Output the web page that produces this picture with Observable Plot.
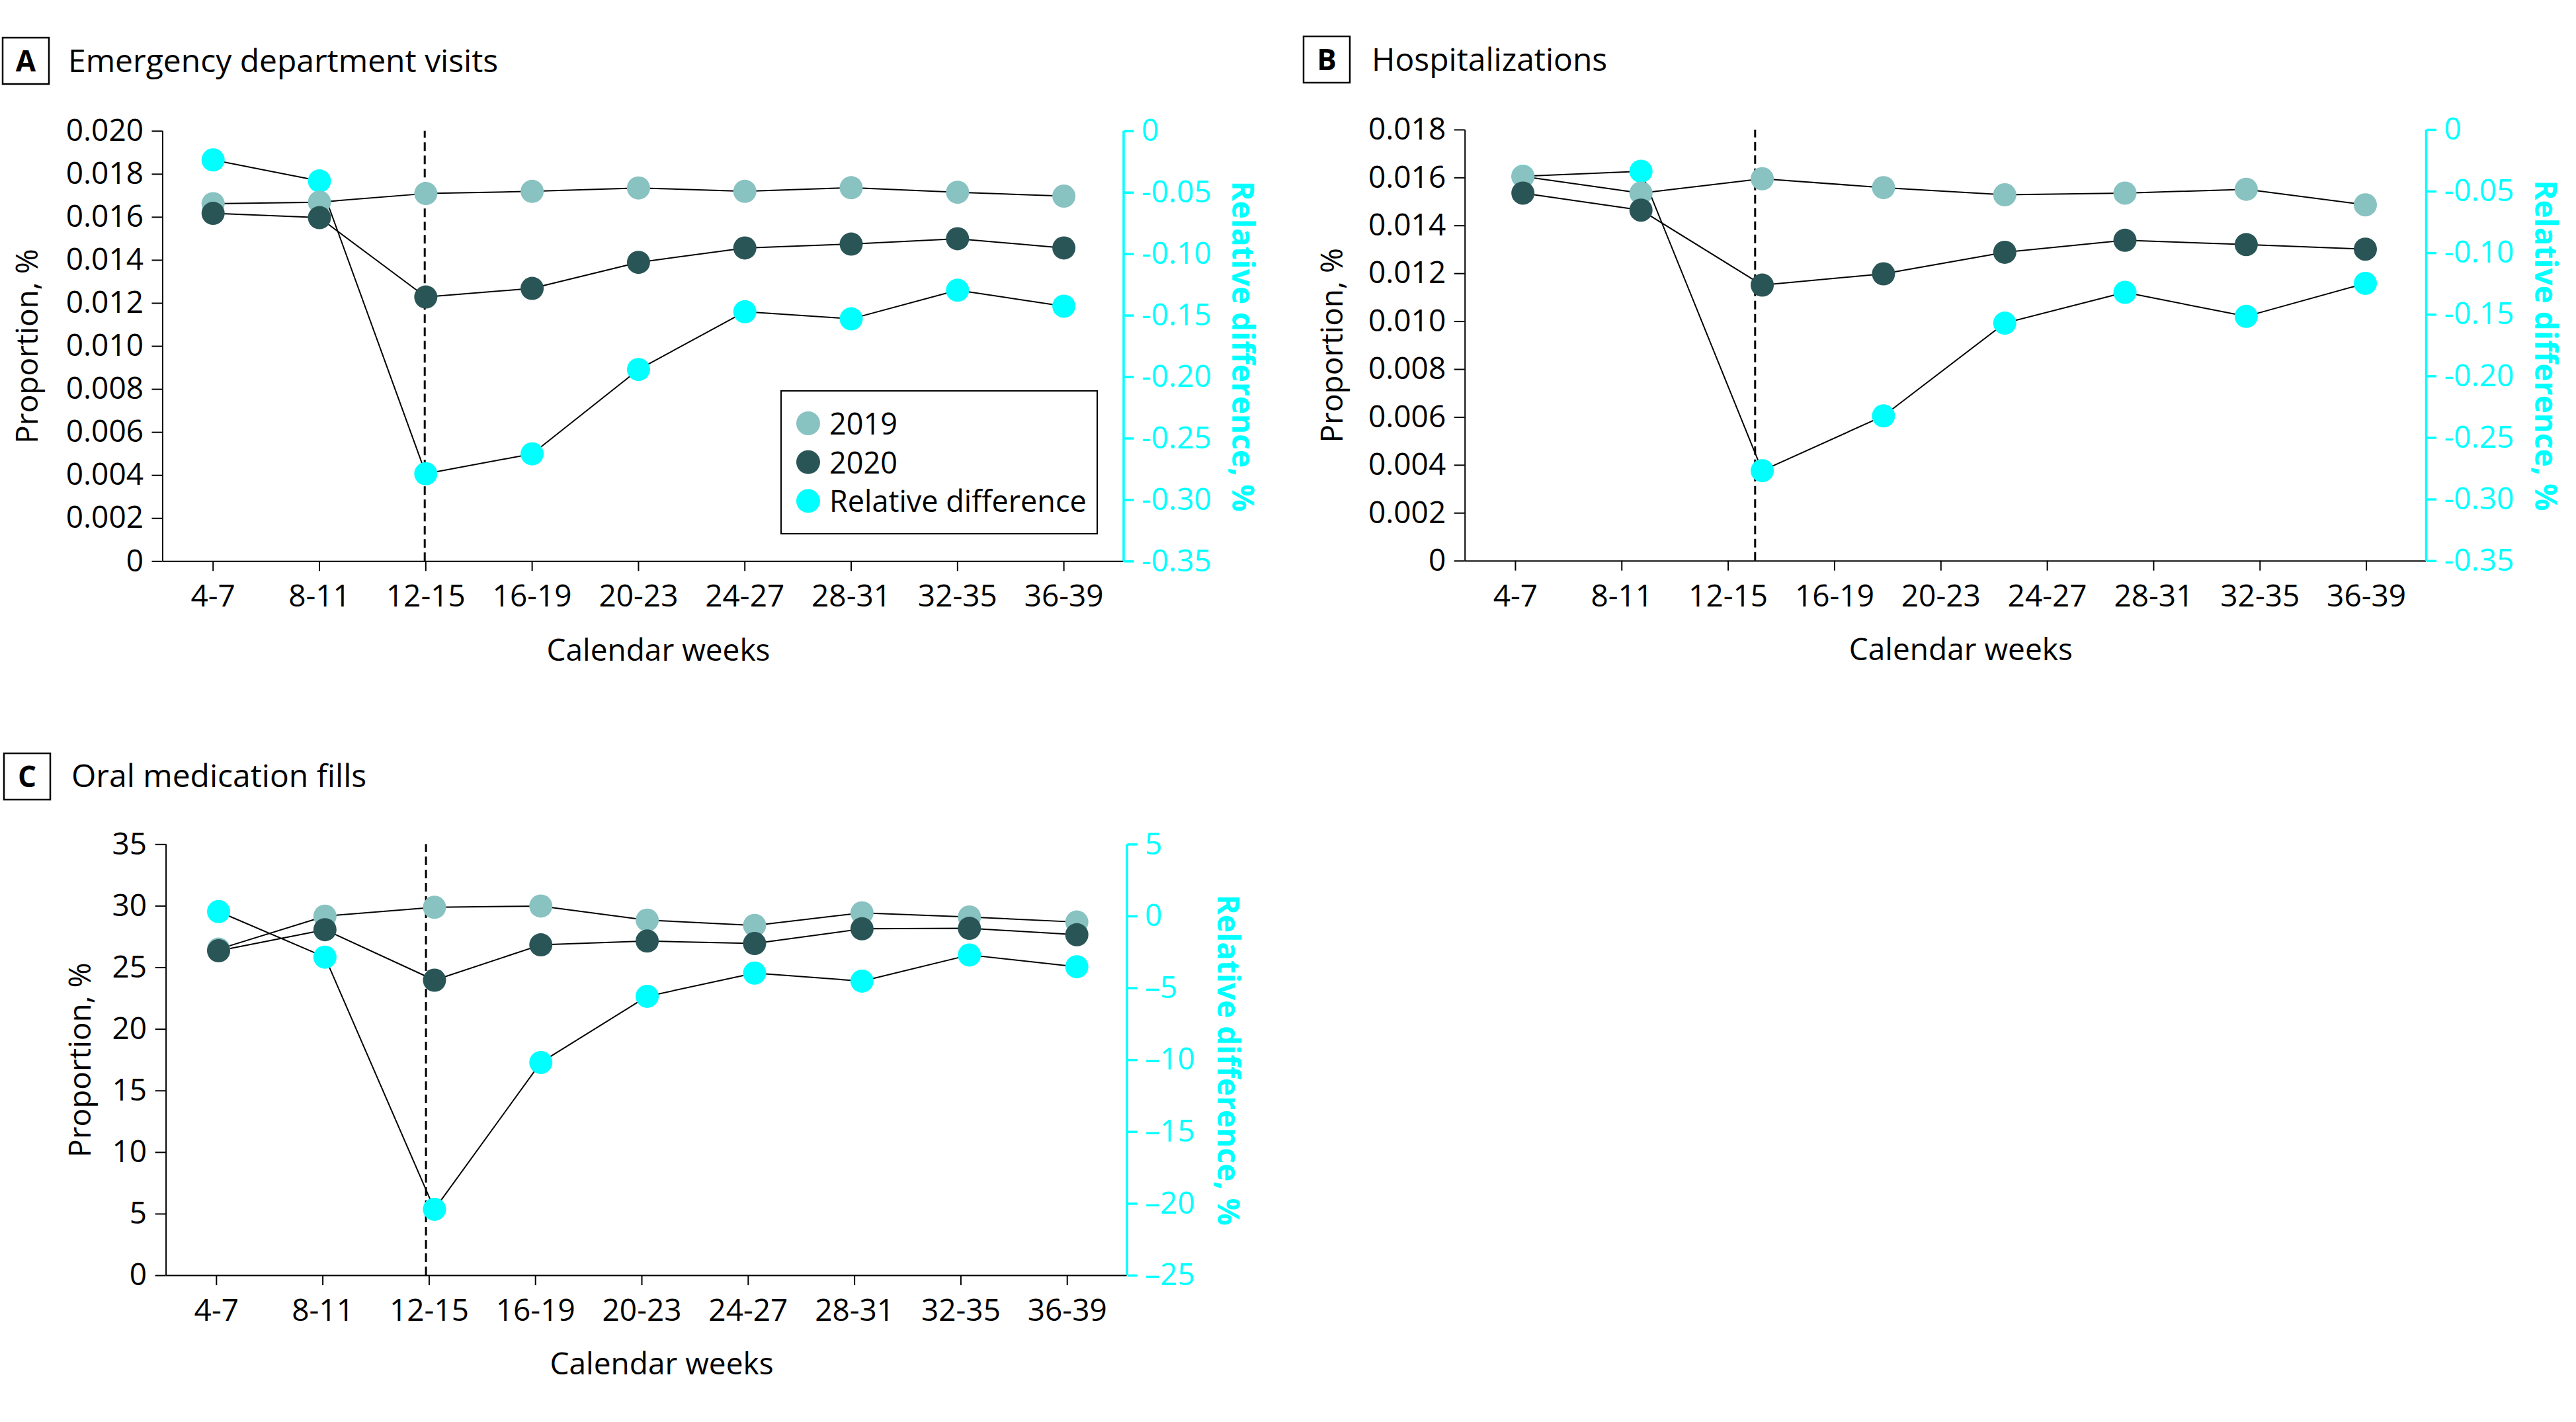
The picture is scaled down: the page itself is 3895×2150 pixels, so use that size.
<!DOCTYPE html>
<html>
<head>
<meta charset="utf-8">
<script src="https://cdn.jsdelivr.net/npm/d3@7"></script>
<script src="https://cdn.jsdelivr.net/npm/@observablehq/plot@0.6"></script>
<style>
  html, body { margin: 0; padding: 0; background: #fff; }
  #root { position: relative; width: 3895px; height: 2150px; overflow: hidden; font-family: "Open Sans", sans-serif; }
  .panel { position: absolute; }
  #overlay { position: absolute; left: 0; top: 0; pointer-events: none; }
</style>
</head>
<body>
<div id="root"></div>
<script>
// ---------------- DATA ----------------
const weeks = ["4-7", "8-11", "12-15", "16-19", "20-23", "24-27", "28-31", "32-35", "36-39"];
const weekTicks = [0, 1, 2, 3, 4, 5, 6, 7, 8];
const seriesNames = ["2019", "2020", "Relative difference"];

// A: Emergency department visits
const edX = [0, 1, 2, 3, 4, 5, 6, 7, 8];
const ed2019 = [0.01663, 0.01670, 0.01710, 0.01720, 0.01736, 0.01720, 0.01737, 0.01716, 0.01698];
const ed2020 = [0.01618, 0.01598, 0.01229, 0.01269, 0.01390, 0.01457, 0.01475, 0.01500, 0.01457];
const edRel = [-0.0234, -0.0405, -0.2787, -0.2625, -0.1939, -0.1469, -0.1527, -0.1294, -0.1424];
const edDash = 1.99;
const edYTicks = [0, 0.002, 0.004, 0.006, 0.008, 0.010, 0.012, 0.014, 0.016, 0.018, 0.020];
const edYLabels = ["0", "0.002", "0.004", "0.006", "0.008", "0.010", "0.012", "0.014", "0.016", "0.018", "0.020"];
const edRelTicks = [0, -0.05, -0.10, -0.15, -0.20, -0.25, -0.30, -0.35];
const edRelLabels = ["0", "-0.05", "-0.10", "-0.15", "-0.20", "-0.25", "-0.30", "-0.35"];

// B: Hospitalizations (8 plotted positions spread over the 9 week ticks)
const hospX = [0.07, 1.18, 2.32, 3.46, 4.60, 5.73, 6.87, 7.99];
const hosp2019 = [0.01606, 0.01536, 0.01596, 0.01559, 0.01529, 0.01536, 0.01552, 0.01487];
const hosp2020 = [0.01536, 0.01465, 0.01152, 0.01199, 0.01289, 0.01339, 0.01321, 0.01302];
const hospRel = [-0.0377, -0.0336, -0.2767, -0.2322, -0.1569, -0.1319, -0.1514, -0.1246];
const hospDash = 2.253;
const hospYTicks = [0, 0.002, 0.004, 0.006, 0.008, 0.010, 0.012, 0.014, 0.016, 0.018];
const hospYLabels = ["0", "0.002", "0.004", "0.006", "0.008", "0.010", "0.012", "0.014", "0.016", "0.018"];
const hospRelTicks = [0, -0.05, -0.10, -0.15, -0.20, -0.25, -0.30, -0.35];
const hospRelLabels = ["0", "-0.05", "-0.10", "-0.15", "-0.20", "-0.25", "-0.30", "-0.35"];

// C: Oral medication fills
const oralX = [0.02, 1.02, 2.05, 3.05, 4.05, 5.06, 6.07, 7.08, 8.09];
const oral2019 = [26.5, 29.18, 29.90, 30.00, 28.86, 28.43, 29.45, 29.11, 28.70];
const oral2020 = [26.37, 28.08, 23.98, 26.85, 27.16, 26.96, 28.15, 28.19, 27.67];
const oralRel = [0.33, -2.84, -20.39, -10.17, -5.57, -3.95, -4.51, -2.69, -3.51];
const oralDash = 1.97;
const oralYTicks = [0, 5, 10, 15, 20, 25, 30, 35];
const oralYLabels = ["0", "5", "10", "15", "20", "25", "30", "35"];
const oralRelTicks = [5, 0, -5, -10, -15, -20, -25];
const oralRelLabels = ["5", "0", "\u20135", "\u201310", "\u201315", "\u201320", "\u201325"];

// ---------------- STYLE ----------------
const FONT = "'Open Sans', sans-serif";
const C2019 = "#88c2c1";
const C2020 = "#2a5556";
const CREL = "#00ffff";
const XDOM = [-0.474, 8.562];

function makePanel(cfg) {
  const yMax = cfg.yTicks[cfg.yTicks.length - 1];
  const [rMin, rMax] = d3.extent(cfg.relTicks);
  const relToY = r => (r - rMin) / (rMax - rMin) * yMax;
  const rows = (vals, key) => vals.map((v, i) => ({x: cfg.x[i], y: key === "rel" ? relToY(v) : v}));
  const d19 = rows(cfg.s2019, "a"), d20 = rows(cfg.s2020, "b"), dR = rows(cfg.rel, "rel");
  const relTickY = cfg.relTicks.map(relToY);
  const fmtLeft = v => cfg.yLabels[cfg.yTicks.findIndex(t => Math.abs(t - v) < 1e-9)];
  const fmtRight = v => cfg.relLabels[relTickY.findIndex(t => Math.abs(t - v) < 1e-9)];

  return Plot.plot({
    width: cfg.width, height: cfg.height,
    marginLeft: cfg.ml, marginRight: cfg.mr, marginTop: cfg.mt, marginBottom: cfg.mb,
    style: {fontFamily: FONT, fontSize: "46px", background: "transparent", overflow: "visible", color: "#000"},
    x: {type: "linear", domain: XDOM, axis: null},
    y: {type: "linear", domain: [0, yMax], axis: null},
    marks: [
      // axis lines
      Plot.ruleY([0], {stroke: "#000", strokeWidth: 2}),
      Plot.ruleX([XDOM[0]], {y1: 0, y2: yMax, stroke: "#000", strokeWidth: 2}),
      Plot.ruleX([XDOM[1]], {y1: 0, y2: yMax, stroke: CREL, strokeWidth: 3.5}),
      // axes
      Plot.axisX({ticks: weekTicks, tickFormat: i => weeks[i], tickSize: 15, tickPadding: 21,
        fontSize: 46, stroke: "#000", strokeWidth: 2, fill: "#000", label: null}),
      Plot.axisY({anchor: "left", ticks: cfg.yTicks, tickFormat: fmtLeft, tickSize: 16, tickPadding: 13,
        fontSize: 46, stroke: "#000", strokeWidth: 2, fill: "#000", label: null}),
      Plot.axisY({anchor: "right", ticks: relTickY, tickFormat: fmtRight, tickSize: 15, tickPadding: 12,
        fontSize: 46, stroke: CREL, strokeWidth: 3.5, fill: CREL, label: null}),
      // axis titles
      Plot.text(["Proportion, %"], {frameAnchor: "left", rotate: -90, dx: cfg.leftTitleDx, fontSize: 46, fill: "#000", textAnchor: "middle", lineAnchor: "middle"}),
      Plot.text(["Relative difference, %"], {frameAnchor: "right", rotate: 90, dx: cfg.rightTitleDx, fontSize: 46, fontWeight: "bold", fill: CREL, textAnchor: "middle", lineAnchor: "middle"}),
      Plot.text(["Calendar weeks"], {frameAnchor: "bottom", dx: 23, dy: 135, fontSize: 46, fill: "#000", textAnchor: "middle", lineAnchor: "middle"}),
      // dashed reference
      Plot.ruleX([cfg.dash], {y1: 0, y2: yMax, stroke: "#000", strokeWidth: 3, strokeDasharray: "13,7"}),
      // lines
      Plot.line(dR, {x: "x", y: "y", stroke: "#000", strokeWidth: 2}),
      Plot.line(d19, {x: "x", y: "y", stroke: "#000", strokeWidth: 2}),
      Plot.line(d20, {x: "x", y: "y", stroke: "#000", strokeWidth: 2}),
      // markers
      Plot.dot(dR, {x: "x", y: "y", r: 17.5, fill: CREL, stroke: null}),
      Plot.dot(d19, {x: "x", y: "y", r: 17.5, fill: C2019, stroke: null}),
      Plot.dot(d20, {x: "x", y: "y", r: 17.5, fill: C2020, stroke: null})
    ]
  });
}

const root = document.getElementById("root");
function place(node, left, top) {
  const d = document.createElement("div");
  d.className = "panel";
  d.style.left = left + "px";
  d.style.top = top + "px";
  d.appendChild(node);
  root.appendChild(d);
}

place(makePanel({
  x: edX, s2019: ed2019, s2020: ed2020, rel: edRel, dash: edDash,
  yTicks: edYTicks, yLabels: edYLabels, relTicks: edRelTicks, relLabels: edRelLabels,
  width: 1950, height: 900, ml: 245.5, mr: 251.5, mt: 47.8, mb: 201.7,
  leftTitleDx: -204, rightTitleDx: 179
}), 0, 150);

place(makePanel({
  x: hospX, s2019: hosp2019, s2020: hosp2020, rel: hospRel, dash: hospDash,
  yTicks: hospYTicks, yLabels: hospYLabels, relTicks: hospRelTicks, relLabels: hospRelLabels,
  width: 1945, height: 900, ml: 264.7, mr: 227, mt: 45.9, mb: 202.3,
  leftTitleDx: -200, rightTitleDx: 179
}), 1950, 150);

place(makePanel({
  x: oralX, s2019: oral2019, s2020: oral2020, rel: oralRel, dash: oralDash,
  yTicks: oralYTicks, yLabels: oralYLabels, relTicks: oralRelTicks, relLabels: oralRelLabels,
  width: 1950, height: 1000, ml: 250.6, mr: 246.4, mt: 126.3, mb: 221.9,
  leftTitleDx: -129, rightTitleDx: 152
}), 0, 1150);

// ---------------- HEADERS + LEGEND ----------------
const NS = "http://www.w3.org/2000/svg";
const ov = document.createElementNS(NS, "svg");
ov.setAttribute("id", "overlay");
ov.setAttribute("width", 3895);
ov.setAttribute("height", 2150);
ov.style.fontFamily = FONT;
root.appendChild(ov);
function el(tag, attrs, text) {
  const e = document.createElementNS(NS, tag);
  for (const k in attrs) e.setAttribute(k, attrs[k]);
  if (text != null) e.textContent = text;
  ov.appendChild(e);
  return e;
}
const headers = [
  {tag: "A", title: "Emergency department visits", bx: 4, by: 57, tx: 103, ty: 109},
  {tag: "B", title: "Hospitalizations", bx: 1971, by: 55, tx: 2074, ty: 107},
  {tag: "C", title: "Oral medication fills", bx: 6, by: 1139, tx: 108, ty: 1190}
];
for (const h of headers) {
  el("rect", {x: h.bx, y: h.by, width: 70, height: 70, fill: "none", stroke: "#000", "stroke-width": 2.5});
  el("text", {x: h.bx + 35, y: h.by + 51, "text-anchor": "middle", "font-size": 44, "font-weight": 700}, h.tag);
  el("text", {x: h.tx, y: h.ty, "font-size": 48}, h.title);
}
// legend (panel A)
el("rect", {x: 1181, y: 591, width: 478, height: 216, fill: "#fff", stroke: "#000", "stroke-width": 2});
const legColors = [C2019, C2020, CREL];
seriesNames.forEach((name, i) => {
  const cy = 640 + i * 58.7;
  el("circle", {cx: 1222, cy: cy, r: 18, fill: legColors[i]});
  el("text", {x: 1254, y: cy + 17, "font-size": 45}, name);
});
</script>
</body>
</html>
